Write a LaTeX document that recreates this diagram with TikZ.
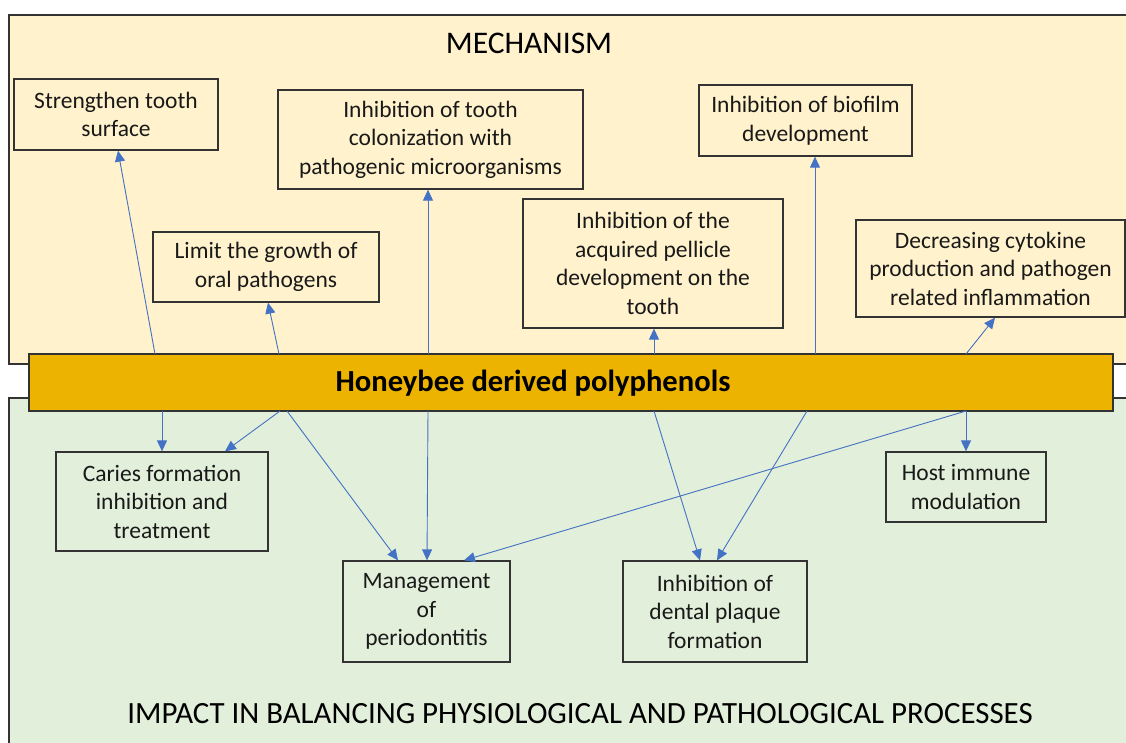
\documentclass[tikz,border=0pt]{standalone}
\usepackage{fontspec}
\setmainfont{Carlito}
\usetikzlibrary{arrows.meta}
\definecolor{topfill}{HTML}{FFF2CC}
\definecolor{botfill}{HTML}{E2EFDA}
\definecolor{barfill}{HTML}{ECB400}
\definecolor{edge}{HTML}{333333}
\definecolor{arr}{HTML}{4472C4}
\tikzset{
  panel/.style={draw=edge, line width=1.5pt},
  box/.style={draw=edge, line width=1.3pt, align=center, inner sep=0pt,
    font=\fontsize{23.5}{28.5}\selectfont, text=black!90},
  link/.style={draw=arr, line width=0.9pt, -{Triangle[length=11pt,width=10pt]}},
}
\begin{document}
\begin{tikzpicture}[x=1pt,y=-1pt]
\useasboundingbox (0,0) rectangle (1126,742);
\clip (0,0) rectangle (1126,742);
% panels
\draw[panel, fill=topfill] (9,15) rectangle (1140,364);
\draw[panel, fill=botfill] (9,398) rectangle (1140,760);
\node[font=\fontsize{31.5}{36}\selectfont] (mtitle) at (529,43) {MECHANISM};
\node[font=\fontsize{30.9}{36}\selectfont] (btitle) at (580,714) {IMPACT IN BALANCING PHYSIOLOGICAL AND PATHOLOGICAL PROCESSES};
% central bar
\node[draw=edge, line width=1.5pt, fill=barfill, minimum width=1084pt, minimum height=57pt, inner sep=0pt] (bar) at (571,382.5) {};
\node[font=\fontsize{30.6}{36}\selectfont\bfseries, inner sep=0pt] (bartext) at (533,383) {Honeybee derived polyphenols};
% mechanism boxes
\node[box, minimum width=204pt, minimum height=71pt] (str) at (116,114.5) {Strengthen tooth\\surface};
\node[box, minimum width=305pt, minimum height=99pt] (col) at (430.5,139.5) {Inhibition of tooth\\colonization with\\pathogenic microorganisms};
\node[box, minimum width=226pt, minimum height=70pt] (lim) at (266,267) {Limit the growth of\\oral pathogens};
\node[box, minimum width=213pt, minimum height=71pt] (bio) at (805.5,120.5) {Inhibition of biofilm\\development};
\node[box, minimum width=260pt, minimum height=129pt] (pel) at (653,263.5) {Inhibition of the\\acquired pellicle\\development on the\\tooth};
\node[box, minimum width=269pt, minimum height=97pt] (cyt) at (990.5,268.5) {Decreasing cytokine\\production and pathogen\\related inflammation};
% impact boxes
\node[box, minimum width=212pt, minimum height=99pt] (car) at (162,501.5) {Caries formation\\inhibition and\\treatment};
\node[box, minimum width=167pt, minimum height=101pt] (man) at (426.5,611.5) {Management\\of\\periodontitis};
\node[box, minimum width=184pt, minimum height=101pt] (pla) at (715,611.5) {Inhibition of\\dental plaque\\formation};
\node[box, minimum width=160pt, minimum height=70pt] (hos) at (966,487) {Host immune\\modulation};
% bar anchor points
\coordinate (t1) at (155,354);
\coordinate (t2) at (279,354);
\coordinate (t3) at (428,354);
\coordinate (t4) at (654,354);
\coordinate (t5) at (815,354);
\coordinate (t6) at (966,354);
\coordinate (b1) at (162,411);
\coordinate (b2) at (280,411);
\coordinate (b3) at (287,411);
\coordinate (b4) at (428,411);
\coordinate (b5) at (654,411);
\coordinate (b6) at (807,411);
\coordinate (b7) at (966,411);
% upward arrows
\draw[link] (t1) -- ([xshift=2pt]str.south);
\draw[link] (t2) -- ([xshift=2pt]lim.south);
\draw[link] (t3) -- ([xshift=-2.5pt]col.south);
\draw[link] (t4) -- ([xshift=1pt]pel.south);
\draw[link] (t5) -- ([xshift=9.5pt]bio.south);
\draw[link] (t6) -- ([xshift=4.5pt]cyt.south);
% downward arrows
\draw[link] (b1) -- (car.north);
\draw[link] (b2) -- ([xshift=63pt]car.north);
\draw[link] (b3) -- ([xshift=-28.5pt]man.north);
\draw[link] (b4) -- ([xshift=0.5pt]man.north);
\draw[link] (b7) -- ([xshift=37.5pt]man.north);
\draw[link] (b5) -- ([xshift=-15pt]pla.north);
\draw[link] (b6) -- ([xshift=2pt]pla.north);
\draw[link] (b7) -- (hos.north);
\end{tikzpicture}
\end{document}
